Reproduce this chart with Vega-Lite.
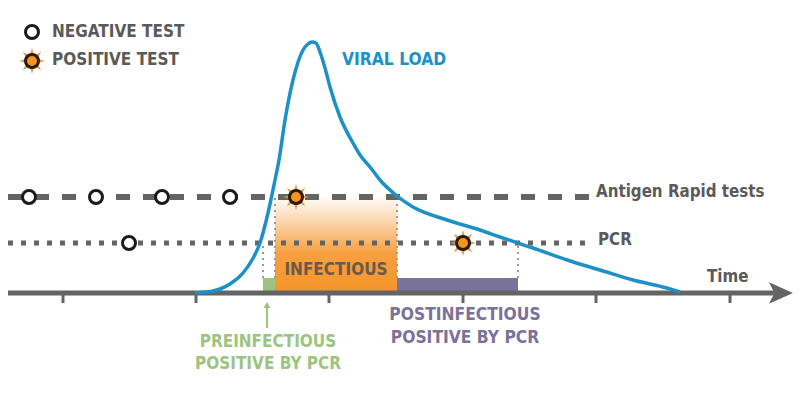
{
  "$schema": "https://vega.github.io/schema/vega-lite/v6.json",
  "width": 800,
  "height": 400,
  "autosize": {"type": "fit", "contains": "padding"},
  "padding": 0,
  "background": "white",
  "config": {"view": {"stroke": null}},
  "encoding": {
    "x": {"field": "t", "type": "quantitative", "scale": {"domain": [0, 800], "nice": false, "zero": false}, "axis": null},
    "y": {"field": "v", "type": "quantitative", "scale": {"domain": [0, 400], "nice": false, "zero": false}, "axis": null}
  },
  "layer": [
    {
      "data": {"values": [{"t": 275, "t2": 397, "v": 108, "v2": 205}]},
      "mark": {"type": "rect", "fill": {"gradient": "linear", "x1": 0, "y1": 1, "x2": 0, "y2": 0, "stops": [{"offset": 0, "color": "#f5952a"}, {"offset": 0.4, "color": "#f7a040"}, {"offset": 0.7, "color": "#fbd2a6"}, {"offset": 1, "color": "#ffffff"}]}},
      "encoding": {"x2": {"field": "t2"}, "y2": {"field": "v2"}}
    },
    {
      "data": {"values": [{"t": 263, "t2": 275, "v": 108, "v2": 122}]},
      "mark": {"type": "rect", "fill": "#9cc47e"},
      "encoding": {"x2": {"field": "t2"}, "y2": {"field": "v2"}}
    },
    {
      "data": {"values": [{"t": 397, "t2": 518, "v": 108, "v2": 122}]},
      "mark": {"type": "rect", "fill": "#7b7299"},
      "encoding": {"x2": {"field": "t2"}, "y2": {"field": "v2"}}
    },
    {
      "data": {"values": [{"t": 263, "v": 122, "v2": 157}, {"t": 275, "v": 122, "v2": 203}, {"t": 397, "v": 122, "v2": 203}, {"t": 518, "v": 122, "v2": 157}]},
      "mark": {"type": "rule", "color": "#9a9a9a", "strokeWidth": 2, "strokeDash": [2, 4]},
      "encoding": {"y2": {"field": "v2"}}
    },
    {
      "data": {"values": [{"t": 8, "t2": 590, "v": 203}]},
      "mark": {"type": "rule", "color": "#646464", "strokeWidth": 6, "strokeDash": [14, 13]},
      "encoding": {"x2": {"field": "t2"}}
    },
    {
      "data": {"values": [{"t": 8, "t2": 585, "v": 157}]},
      "mark": {"type": "rule", "color": "#646464", "strokeWidth": 5, "strokeDash": [5, 8]},
      "encoding": {"x2": {"field": "t2"}}
    },
    {
      "data": {"values": [{"t": 8, "t2": 775, "v": 107}]},
      "mark": {"type": "rule", "color": "#646464", "strokeWidth": 5},
      "encoding": {"x2": {"field": "t2"}}
    },
    {
      "data": {"values": [{"t": 63, "v": 107, "v2": 97}, {"t": 196, "v": 107, "v2": 97}, {"t": 329, "v": 107, "v2": 97}, {"t": 463, "v": 107, "v2": 97}, {"t": 596, "v": 107, "v2": 97}, {"t": 730, "v": 107, "v2": 97}]},
      "mark": {"type": "rule", "color": "#646464", "strokeWidth": 3},
      "encoding": {"y2": {"field": "v2"}}
    },
    {
      "data": {"values": [{"t": 781, "v": 107}]},
      "mark": {"type": "point", "shape": "M-1,-0.9L1,0L-1,0.9L-0.55,0Z", "size": 576, "filled": true, "fill": "#646464", "opacity": 1, "strokeWidth": 0}
    },
    {
      "data": {"values": [{"t": 267, "v": 72, "v2": 93}]},
      "mark": {"type": "rule", "color": "#9cc47e", "strokeWidth": 2},
      "encoding": {"y2": {"field": "v2"}}
    },
    {
      "data": {"values": [{"t": 267, "v": 95}]},
      "mark": {"type": "point", "shape": "triangle-up", "size": 50, "filled": true, "fill": "#9cc47e", "opacity": 1, "strokeWidth": 0}
    },
    {
      "data": {"values": [
        {"t": 195, "v": 107}, {"t": 205, "v": 108}, {"t": 213, "v": 109}, {"t": 220, "v": 111}, {"t": 230, "v": 116},
        {"t": 243, "v": 127}, {"t": 252, "v": 140}, {"t": 260, "v": 157}, {"t": 268, "v": 187}, {"t": 275, "v": 220},
        {"t": 279, "v": 240}, {"t": 285, "v": 280}, {"t": 293, "v": 320}, {"t": 303, "v": 350}, {"t": 308, "v": 356},
        {"t": 312, "v": 358}, {"t": 316, "v": 357}, {"t": 320, "v": 348}, {"t": 325, "v": 332}, {"t": 330, "v": 313},
        {"t": 340, "v": 283}, {"t": 353, "v": 257}, {"t": 360, "v": 245}, {"t": 370, "v": 233}, {"t": 380, "v": 220},
        {"t": 397, "v": 204}, {"t": 413, "v": 193}, {"t": 447, "v": 180}, {"t": 480, "v": 170}, {"t": 500, "v": 163},
        {"t": 533, "v": 152}, {"t": 567, "v": 140}, {"t": 600, "v": 130}, {"t": 633, "v": 120}, {"t": 667, "v": 112},
        {"t": 680, "v": 108}
      ]},
      "mark": {"type": "line", "color": "#1e90c8", "strokeWidth": 3.5, "interpolate": "monotone"}
    },
    {
      "data": {"values": [{"t": 32, "v": 339}, {"t": 296, "v": 203}, {"t": 463, "v": 157}]},
      "mark": {"type": "point", "shape": "M1,0L0.416,0.172L0.707,0.707L0.172,0.416L0,1L-0.172,0.416L-0.707,0.707L-0.416,0.172L-1,0L-0.416,-0.172L-0.707,-0.707L-0.172,-0.416L0,-1L0.172,-0.416L0.707,-0.707L0.416,-0.172Z", "size": 680, "filled": true, "fill": "#d99440", "opacity": 0.9, "strokeWidth": 0}
    },
    {
      "data": {"values": [{"t": 32, "v": 339}, {"t": 296, "v": 203}, {"t": 463, "v": 157}]},
      "mark": {"type": "point", "shape": "circle", "size": 169, "filled": false, "fill": "#f7941d", "fillOpacity": 1, "stroke": "#2b1a0e", "strokeWidth": 3, "opacity": 1}
    },
    {
      "data": {"values": [{"t": 32, "v": 368}, {"t": 29, "v": 203}, {"t": 96, "v": 203}, {"t": 162, "v": 203}, {"t": 230, "v": 203}, {"t": 129, "v": 157}]},
      "mark": {"type": "point", "shape": "circle", "size": 169, "filled": false, "fill": "#ffffff", "fillOpacity": 1, "stroke": "#1a1a1a", "strokeWidth": 3, "opacity": 1}
    },
    {
      "data": {"values": [{"t": 52, "v": 368, "label": "NEGATIVE TEST"}, {"t": 52, "v": 340, "label": "POSITIVE TEST"}]},
      "mark": {"type": "text", "align": "left", "baseline": "middle", "font": "DejaVu Sans Condensed, sans-serif", "fontWeight": "bold", "fontSize": 17, "color": "#5a5a5a"},
      "encoding": {"text": {"field": "label"}}
    },
    {
      "data": {"values": [{"t": 342, "v": 340, "label": "VIRAL LOAD"}]},
      "mark": {"type": "text", "align": "left", "baseline": "middle", "font": "DejaVu Sans Condensed, sans-serif", "fontWeight": "bold", "fontSize": 17.3, "color": "#1e90c8"},
      "encoding": {"text": {"field": "label"}}
    },
    {
      "data": {"values": [{"t": 596, "v": 208, "label": "Antigen Rapid tests"}, {"t": 598, "v": 160, "label": "PCR"}, {"t": 707, "v": 123, "label": "Time"}]},
      "mark": {"type": "text", "align": "left", "baseline": "middle", "font": "DejaVu Sans Condensed, sans-serif", "fontWeight": "bold", "fontSize": 16.8, "color": "#5a5a5a"},
      "encoding": {"text": {"field": "label"}}
    },
    {
      "data": {"values": [{"t": 336, "v": 130, "label": "INFECTIOUS"}]},
      "mark": {"type": "text", "align": "center", "baseline": "middle", "font": "DejaVu Sans Condensed, sans-serif", "fontWeight": "bold", "fontSize": 17, "color": "#6b5a4c"},
      "encoding": {"text": {"field": "label"}}
    },
    {
      "data": {"values": [{"t": 268, "v": 58, "label": "PREINFECTIOUS"}, {"t": 268, "v": 36, "label": "POSITIVE BY PCR"}]},
      "mark": {"type": "text", "align": "center", "baseline": "middle", "font": "DejaVu Sans Condensed, sans-serif", "fontWeight": "bold", "fontSize": 17, "color": "#9cc47e"},
      "encoding": {"text": {"field": "label"}}
    },
    {
      "data": {"values": [{"t": 465, "v": 85, "label": "POSTINFECTIOUS"}, {"t": 465, "v": 62, "label": "POSITIVE BY PCR"}]},
      "mark": {"type": "text", "align": "center", "baseline": "middle", "font": "DejaVu Sans Condensed, sans-serif", "fontWeight": "bold", "fontSize": 17.3, "color": "#7b7299"},
      "encoding": {"text": {"field": "label"}}
    }
  ]
}
